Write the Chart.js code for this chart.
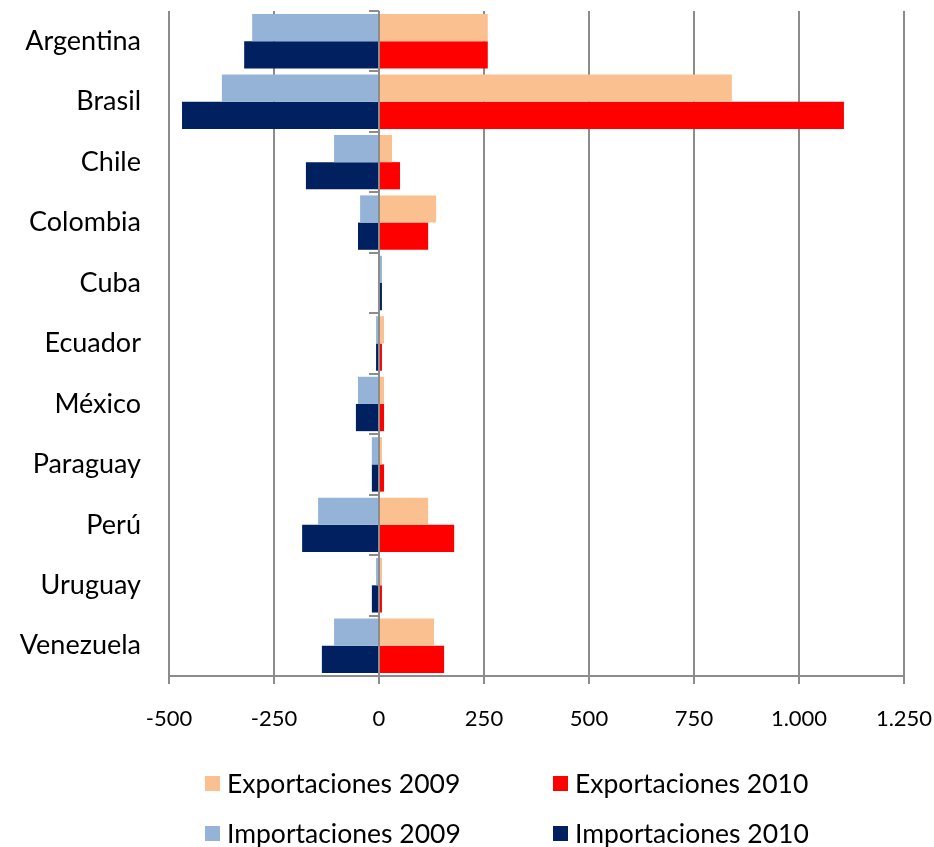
<!DOCTYPE html>
<html>
<head>
<meta charset="utf-8">
<script src="https://cdn.jsdelivr.net/npm/chart.js@4/dist/chart.umd.min.js"></script>
<style>
  html, body { margin: 0; padding: 0; background: #ffffff; }
  #wrap { position: relative; width: 934px; height: 847px; }
  #legend { position: absolute; left: 0; top: 0; width: 934px; height: 847px; pointer-events: none;
            font-family: Lato, "Open Sans", sans-serif; font-size: 26.5px; color: #000; }
  .item { position: absolute; display: flex; align-items: center; white-space: nowrap; }
  .box { width: 15px; height: 15px; margin-right: 7px; }
</style>
</head>
<body>
<div id="wrap">
  <canvas id="c" width="934" height="847"></canvas>
  <div id="legend"></div>
</div>
<script>
const categories = ["Argentina", "Brasil", "Chile", "Colombia", "Cuba", "Ecuador", "México", "Paraguay", "Perú", "Uruguay", "Venezuela"];
const exportaciones2009 = [259, 840, 31, 136, 0, 12, 12, 7, 117, 7, 131];
const exportaciones2010 = [259, 1107, 50, 117, 0, 7, 12, 12, 179, 7, 155];
const importaciones2009 = [-302, -374, -107, -45, 7, -7, -50, -17, -145, -7, -107];
const importaciones2010 = [-321, -469, -174, -50, 7, -7, -55, -17, -183, -17, -136];
const xTicks = [-500, -250, 0, 250, 500, 750, 1000, 1250];
const seriesNames = ["Exportaciones 2009", "Exportaciones 2010", "Importaciones 2009", "Importaciones 2010"];
const seriesColors = ["#FAC090", "#FF0000", "#95B3D7", "#002060"];

const GRID = "#8c8c8c";
const FONT = "Lato, 'Open Sans', sans-serif";

function fmt(v) {
  const s = Math.abs(v).toString().replace(/\B(?=(\d{3})+(?!\d))/g, ".");
  return (v < 0 ? "-" : "") + s;
}

const zeroTicks = {
  id: "zeroTicks",
  afterDatasetsDraw(chart) {
    const ctx = chart.ctx;
    const xs = chart.scales.x, ys = chart.scales.y;
    const x0 = xs.getPixelForValue(0);
    ctx.save();
    ctx.strokeStyle = GRID;
    ctx.lineWidth = 2;
    ctx.beginPath();
    ctx.moveTo(x0, chart.chartArea.top);
    ctx.lineTo(x0, chart.chartArea.bottom);
    ctx.stroke();
    for (let i = 0; i <= categories.length; i++) {
      const y = Math.round(ys.getPixelForValue(i - 0.5));
      ctx.beginPath();
      ctx.moveTo(x0 - 10, y);
      ctx.lineTo(x0, y);
      ctx.stroke();
    }
    ctx.restore();
  }
};

const stacks = ["2009", "2010", "2009", "2010"];
const values = [exportaciones2009, exportaciones2010, importaciones2009, importaciones2010];

new Chart(document.getElementById("c"), {
  type: "bar",
  data: {
    labels: categories,
    datasets: seriesNames.map((n, i) => ({
      label: n,
      data: values[i],
      backgroundColor: seriesColors[i],
      borderWidth: 0,
      stack: stacks[i],
      categoryPercentage: 0.9,
      barPercentage: 1.0
    }))
  },
  options: {
    indexAxis: "y",
    responsive: false,
    animation: false,
    devicePixelRatio: 1,
    layout: { padding: { top: 11, right: 30, bottom: 0, left: 0 } },
    plugins: { legend: { display: false }, tooltip: { enabled: false } },
    scales: {
      x: {
        stacked: true,
        min: -500, max: 1250,
        afterBuildTicks(scale) { scale.ticks = xTicks.map(v => ({ value: v })); },
        afterFit(scale) { scale.height = 171; scale.paddingLeft = 0; scale.paddingRight = 0; },
        grid: { color: GRID, lineWidth: 2, drawTicks: true, tickLength: 8, tickColor: GRID },
        border: { display: true, color: GRID, width: 2 },
        ticks: { color: "#000", font: { family: FONT, size: 22 }, padding: 22, maxRotation: 0, callback: (v) => fmt(v) }
      },
      y: {
        stacked: true,
        afterFit(scale) { scale.width = 169; scale.paddingTop = 0; scale.paddingBottom = 0; },
        grid: { display: false, drawTicks: false },
        border: { display: false },
        ticks: { color: "#000", font: { family: FONT, size: 27 }, padding: 28 }
      }
    }
  },
  plugins: [zeroTicks]
});

const legendPos = [[205, 783], [553, 783], [205, 833], [553, 833]];
const lg = document.getElementById("legend");
seriesNames.forEach((n, i) => {
  const d = document.createElement("div");
  d.className = "item";
  d.style.left = legendPos[i][0] + "px";
  d.style.top = (legendPos[i][1] - 16) + "px";
  d.style.height = "32px";
  d.innerHTML = '<span class="box" style="background:' + seriesColors[i] + '"></span><span>' + n + '</span>';
  lg.appendChild(d);
});
</script>
</body>
</html>
